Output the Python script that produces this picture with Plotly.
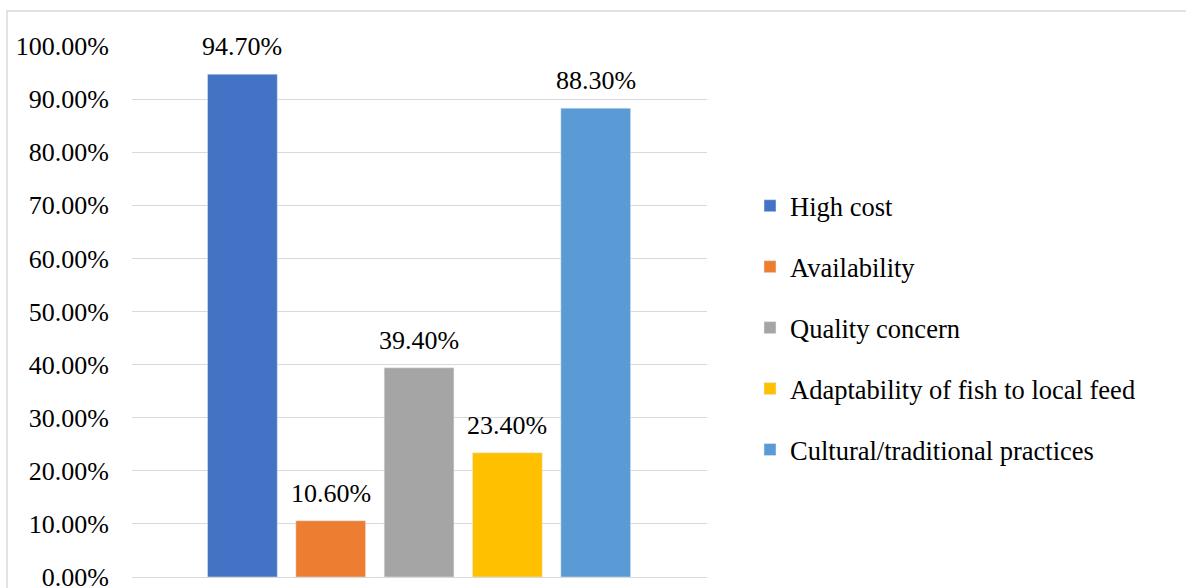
import plotly.graph_objects as go

categories = ["High cost", "Availability", "Quality concern",
              "Adaptability of fish to local feed", "Cultural/traditional practices"]
values = [94.7, 10.6, 39.4, 23.4, 88.3]
colors = ["#4472C4", "#ED7D31", "#A5A5A5", "#FFC000", "#5B9BD5"]
tick_vals = [0, 10, 20, 30, 40, 50, 60, 70, 80, 90, 100]
tick_text = [f"{v:.2f}%" for v in tick_vals]

FONT = "Liberation Serif, Times New Roman, serif"
W, H = 1186, 588
L, R, T, B = 132, 479, 46, 11

fig = go.Figure()
for i, (cat, val, col) in enumerate(zip(categories, values, colors)):
    fig.add_trace(go.Bar(
        x=[i], y=[val], name=cat, marker_color=col, width=0.79,
        legendgroup=cat, hoverinfo="skip",
    ))
    fig.add_annotation(
        x=i, y=val, text=f"{val:.2f}%", showarrow=False,
        yanchor="bottom", yshift=11,
        font=dict(family=FONT, size=26, color="#000000"),
    )

fig.update_layout(
    width=W, height=H,
    margin=dict(l=L, r=R, t=T, b=B, autoexpand=False),
    paper_bgcolor="white", plot_bgcolor="white",
    barmode="overlay",
    font=dict(family=FONT, size=26, color="#000000"),
    showlegend=True,
    legend=dict(
        x=(770 - 20 - L) / (W - L - R), xanchor="left",
        y=(577 - 328) / (H - T - B), yanchor="middle",
        font=dict(family=FONT, size=26.5, color="#000000"),
        tracegroupgap=23.5, itemwidth=30,
        bgcolor="rgba(0,0,0,0)",
    ),
    xaxis=dict(
        range=[-1.25, 5.26], showticklabels=False, showgrid=False,
        zeroline=False, showline=False, ticks="",
    ),
    yaxis=dict(
        range=[0, 100], tickvals=tick_vals, ticktext=tick_text,
        showgrid=True, gridcolor="#D9D9D9", gridwidth=1,
        zeroline=True, zerolinecolor="#D9D9D9", zerolinewidth=1,
        showline=False, ticks="", ticklabelstandoff=22,
        ticklabeloverflow="allow",
        tickfont=dict(family=FONT, size=26, color="#000000"),
    ),
)

pw, ph = W - L - R, H - T - B
fig.add_shape(
    type="rect", xref="paper", yref="paper",
    x0=(7 - L) / pw, x1=(W + 10 - L) / pw,
    y0=(577 - (H + 20)) / ph, y1=(577 - 11) / ph,
    line=dict(color="#D9D9D9", width=1.5), fillcolor="rgba(0,0,0,0)", layer="below",
)

fig.write_html("out.html")
